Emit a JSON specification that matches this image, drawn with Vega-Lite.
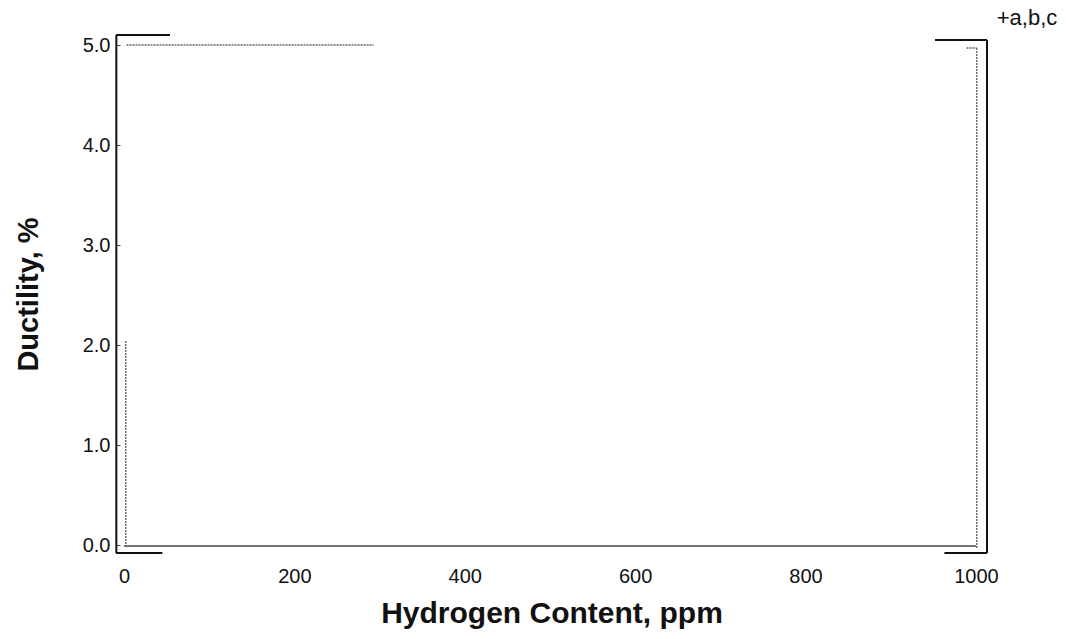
{
  "$schema": "https://vega.github.io/schema/vega-lite/v6.json",
  "autosize": {"type": "none"},
  "padding": {"left": 116, "top": 35, "right": 79, "bottom": 86},
  "width": 871,
  "height": 518,
  "background": "white",
  "config": {"view": {"stroke": null}, "font": "Liberation Sans"},
  "datasets": {
    "frame": [
      {"part": "left", "x": -9.0, "y": -0.08, "x2": -9.0, "y2": 5.1},
      {"part": "top-left", "x": -9.4, "y": 5.1, "x2": 54, "y2": 5.1},
      {"part": "bottom-left", "x": -9.4, "y": -0.08, "x2": 45, "y2": -0.08},
      {"part": "right", "x": 1013, "y": -0.08, "x2": 1013, "y2": 5.05},
      {"part": "top-right", "x": 952, "y": 5.05, "x2": 1013, "y2": 5.05},
      {"part": "bottom-right", "x": 963, "y": -0.08, "x2": 1013, "y2": -0.08}
    ],
    "series": [
      {"series": "a", "x": 0, "y": -0.01, "x2": 1000, "y2": -0.01},
      {"series": "b", "x": 2, "y": -0.02, "x2": 2, "y2": 2.05},
      {"series": "b", "x": 3, "y": 5.0, "x2": 293, "y2": 5.0},
      {"series": "c", "x": 1001, "y": -0.03, "x2": 1001, "y2": 4.97},
      {"series": "c", "x": 989, "y": 4.97, "x2": 1001, "y2": 4.97}
    ],
    "legend": [{"label": "+a,b,c", "x": 1060, "y": 5.2}]
  },
  "encoding": {
    "x": {
      "field": "x", "type": "quantitative",
      "scale": {"domain": [-9.4, 1013], "nice": false, "zero": false},
      "axis": {
        "title": "Hydrogen Content, ppm",
        "values": [0, 200, 400, 600, 800, 1000],
        "format": "d",
        "domain": false, "ticks": false, "grid": false,
        "labelFontSize": 20, "labelColor": "#111", "labelPadding": 13,
        "titleFontSize": 30, "titleFontWeight": "bold", "titleColor": "#111", "titlePadding": 12
      }
    },
    "y": {
      "field": "y", "type": "quantitative",
      "scale": {"domain": [-0.08, 5.1], "nice": false, "zero": false},
      "axis": {
        "title": "Ductility, %",
        "values": [0, 1, 2, 3, 4, 5],
        "format": ".1f",
        "domain": false, "grid": false,
        "ticks": true, "tickSize": -4, "tickColor": "#444", "tickWidth": 1,
        "labelFontSize": 20, "labelColor": "#111", "labelPadding": 10,
        "titleFontSize": 29, "titleFontWeight": "bold", "titleColor": "#111", "titlePadding": 39
      }
    }
  },
  "layer": [
    {
      "data": {"name": "frame"},
      "mark": {"type": "rule", "color": "#111", "strokeWidth": 2},
      "encoding": {"x2": {"field": "x2"}, "y2": {"field": "y2"}}
    },
    {
      "data": {"name": "series"},
      "transform": [{"filter": "datum.series === 'a'"}],
      "mark": {"type": "rule", "color": "#444", "strokeWidth": 1.4},
      "encoding": {"x2": {"field": "x2"}, "y2": {"field": "y2"}}
    },
    {
      "data": {"name": "series"},
      "transform": [{"filter": "datum.series !== 'a'"}],
      "mark": {"type": "rule", "color": "#666", "strokeWidth": 1.4, "strokeDash": [2, 1]},
      "encoding": {"x2": {"field": "x2"}, "y2": {"field": "y2"}}
    },
    {
      "data": {"name": "legend"},
      "mark": {"type": "text", "fontSize": 22, "color": "#111", "clip": false, "baseline": "alphabetic"},
      "encoding": {"text": {"field": "label"}}
    }
  ]
}
